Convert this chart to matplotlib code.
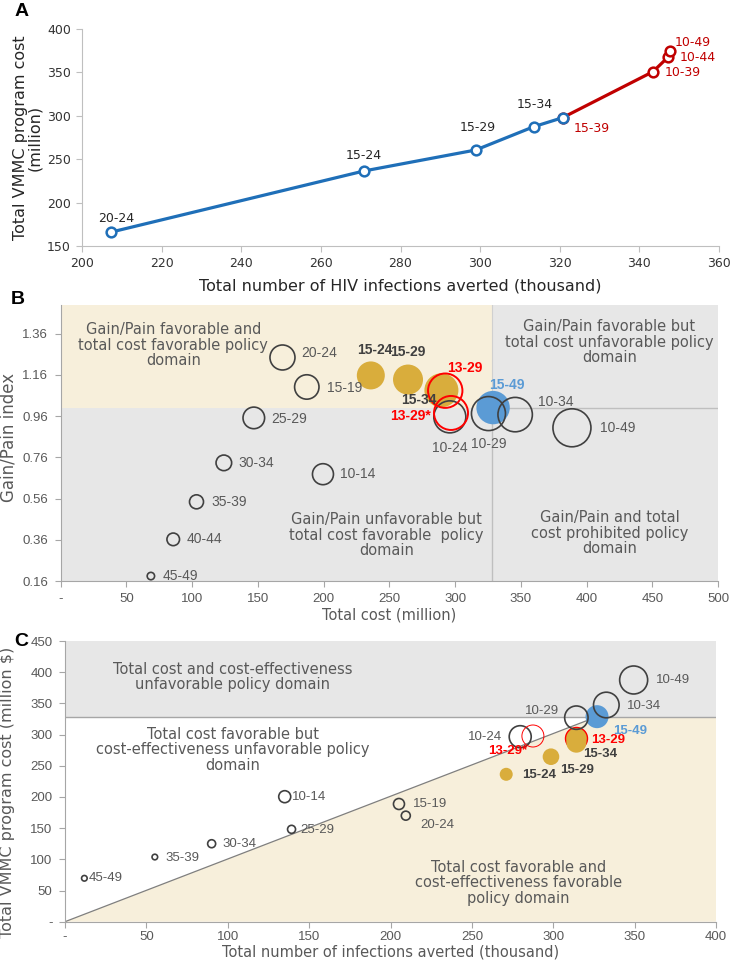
import matplotlib
matplotlib.use('Agg')
import matplotlib.pyplot as plt
from matplotlib.patches import Rectangle, Polygon

# ---- data ----
# Panel A: cost vs infections averted along the age-group expansion path
a_groups = ['20-24', '15-24', '15-29', '15-34', '15-39', '10-39', '10-44', '10-49']
a_infections = [207.3, 270.8, 298.9, 313.5, 320.7, 343.4, 347.3, 347.6]
a_cost = [166.0, 236.4, 260.6, 287.5, 297.8, 350.8, 368.0, 374.7]
a_n_blue = 5  # first five on the blue path, 15-39 onward in red

# Panel B: total cost vs gain/pain index (bubble size in px radius)
b_groups = ['15-24', '15-29', '15-34', '15-49',
            '45-49', '40-44', '35-39', '30-34', '25-29', '10-14', '15-19', '20-24',
            '10-24', '10-29', '10-34', '10-49', '13-29', '13-29*']
b_kind = ['gold', 'gold', 'gold', 'blue',
          'open', 'open', 'open', 'open', 'open', 'open', 'open', 'open',
          'open', 'open', 'open', 'open', 'red', 'red']
b_cost = [235.9, 264.2, 289.6, 328.9,
          68.6, 85.6, 103.3, 124.1, 146.9, 199.5, 187.2, 168.7,
          296.0, 325.4, 345.7, 388.9, 292.5, 296.9]
b_index = [1.157, 1.137, 1.085, 1.001,
           0.184, 0.362, 0.544, 0.733, 0.951, 0.678, 1.101, 1.244,
           0.956, 0.972, 0.967, 0.903, 1.083, 0.975]
b_bubble = [14, 15, 17, 16.7,
            3.7, 6.3, 7, 7.8, 10.8, 10.5, 12.2, 12.5,
            16, 17, 17.2, 19, 17.2, 17]

# Panel C: infections averted vs total cost
c_groups = ['15-24', '15-29', '13-29', '15-34', '15-49',
            '45-49', '35-39', '30-34', '10-14', '25-29', '15-19', '20-24',
            '10-24', '10-29', '10-34', '10-49', '13-29*']
c_kind = ['gold', 'gold', 'goldred', 'gold', 'blue',
          'open', 'open', 'open', 'open', 'open', 'open', 'open',
          'open', 'open', 'open', 'open', 'redthin']
c_infections = [271.1, 298.6, 314.2, 314.2, 326.9,
                11.9, 55.2, 90.1, 135.0, 139.2, 205.2, 209.4,
                279.7, 314.2, 332.6, 349.4, 287.5]
c_cost = [236.3, 264.5, 294.1, 287.0, 328.7,
          69.6, 103.7, 125.0, 200.4, 148.1, 188.7, 170.0,
          296.6, 327.1, 347.4, 387.5, 297.7]
c_bubble = [6.5, 8.3, 11, 10, 11.5,
            2.8, 2.8, 4, 6, 4, 5.5, 4.5,
            11, 11.7, 12.8, 14, 11]

cost_cap = 328      # total cost threshold (million)
gain_pain_cut = 1.0

# ---- styling ----
BLUE_A = '#1F6FB8'
RED_A = '#C00000'
GOLD = '#D9AD3C'
BLUE = '#5B9BD5'
RED = '#FF0000'
DARK = '#404040'
GRAY_BG = '#E7E7E7'
BEIGE = '#F7EFDB'
TXT = '#595959'
ARIAL = 'Liberation Sans'
PX = 0.72  # px -> points at dpi 100

plt.rcParams['font.family'] = 'DejaVu Sans'

fig = plt.figure(figsize=(7.33, 9.6), dpi=100)

def area(r):
    return (2 * r * PX) ** 2

def style_axes(ax, spine='#A6A6A6'):
    for s in ['top', 'right']:
        ax.spines[s].set_visible(False)
    for s in ['left', 'bottom']:
        ax.spines[s].set_color(spine)
    ax.tick_params(colors=spine, length=4)

# ================= Panel A =================
axA = fig.add_axes([82/733, 1-246/960, 637/733, 217/960])
style_axes(axA, '#BFBFBF')
axA.plot(a_infections[a_n_blue-1:], a_cost[a_n_blue-1:], '-o', color=RED_A, lw=2.3,
         ms=7, mfc='white', mec=RED_A, mew=1.8, zorder=2)
axA.plot(a_infections[:a_n_blue], a_cost[:a_n_blue], '-o', color=BLUE_A, lw=2.3,
         ms=7, mfc='white', mec=BLUE_A, mew=1.8, zorder=3)
axA.set_xlim(200, 360)
axA.set_ylim(150, 400)
axA.set_xticks(range(200, 361, 20))
axA.set_yticks(range(150, 401, 50))
axA.tick_params(labelcolor='#333333', labelsize=9, pad=4)
axA.set_xlabel('Total number of HIV infections averted (thousand)', fontsize=11.5, color='#262626')
axA.set_ylabel('Total VMMC program cost\n(million)', fontsize=11.5, color='#262626', linespacing=1.0)
axA.xaxis.set_label_coords(0.5, -0.15)
axA.yaxis.set_label_coords(-0.062, 0.5)

a_offsets = {'20-24': (4.7, 13.7, 'center'), '15-24': (0, 16, 'center'),
             '15-29': (1.8, 22.7, 'center'), '15-34': (1, 22.4, 'center'),
             '15-39': (11, -10.6, 'left'), '10-39': (11.3, -1, 'left'),
             '10-44': (11.7, -0.6, 'left'), '10-49': (5.3, 8.3, 'left')}
for i, g in enumerate(a_groups):
    dx, dy, ha = a_offsets[g]
    col = '#262626' if i < a_n_blue - 1 else RED_A
    axA.annotate(g, (a_infections[i], a_cost[i]), xytext=(dx*PX, dy*PX),
                 textcoords='offset points', ha=ha, va='center', fontsize=9, color=col)

# ================= Panel B =================
axB = fig.add_axes([60.7/733, 1-581/960, 657.3/733, 276.3/960])
style_axes(axB)
axB.set_facecolor(GRAY_BG)
axB.set_xlim(0, 500)
axB.set_ylim(0.16, 1.5)
axB.add_patch(Rectangle((0, gain_pain_cut), cost_cap, 1.5 - gain_pain_cut,
                        facecolor=BEIGE, edgecolor='none', zorder=0))
axB.plot([cost_cap, cost_cap], [0.16, gain_pain_cut], color='#BFBFBF', lw=1, zorder=1)
axB.plot([cost_cap, 500], [gain_pain_cut, gain_pain_cut], color='#BFBFBF', lw=1, zorder=1)
axB.plot([cost_cap, cost_cap], [gain_pain_cut, 1.5], color='#D0D0D0', lw=0.8, zorder=1)
axB.set_xticks(range(0, 501, 50))
axB.set_xticklabels(['-'] + [str(v) for v in range(50, 501, 50)])
yt = [0.16, 0.36, 0.56, 0.76, 0.96, 1.16, 1.36]
axB.set_yticks(yt)
axB.set_yticklabels(['%.2f' % v for v in yt])
axB.tick_params(labelcolor=TXT, labelsize=9.5, pad=5)
for lab in axB.get_xticklabels() + axB.get_yticklabels():
    lab.set_family(ARIAL)
axB.set_xlabel('Total cost (million)', fontsize=10.5, color=TXT)
axB.set_ylabel('Gain/Pain index', fontsize=12, color=TXT)
axB.xaxis.set_label_coords(0.5, -0.095)
axB.yaxis.set_label_coords(-0.066, 0.52)

def draw_bubbles(ax, xs, ys, sizes, kinds):
    for x, y, r, k in zip(xs, ys, sizes, kinds):
        if k == 'gold':
            ax.scatter(x, y, s=area(r), color=GOLD, edgecolors='none', zorder=3)
        elif k == 'goldred':
            ax.scatter(x, y, s=area(r), color=GOLD, edgecolors=RED, linewidths=1.0, zorder=3)
        elif k == 'blue':
            ax.scatter(x, y, s=area(r), color=BLUE, edgecolors='none', zorder=4)
        elif k == 'open':
            ax.scatter(x, y, s=area(r), facecolors='none', edgecolors=DARK, linewidths=1.2, zorder=5)
        elif k == 'red':
            ax.scatter(x, y, s=area(r), facecolors='none', edgecolors=RED, linewidths=1.4, zorder=6)
        elif k == 'redthin':
            ax.scatter(x, y, s=area(r), facecolors='none', edgecolors=RED, linewidths=0.7, zorder=6)

draw_bubbles(axB, b_cost, b_index, b_bubble, b_kind)

label_style = {'gold': ('#404040', 'bold'), 'goldred': (RED, 'bold'), 'blue': (BLUE, 'bold'),
               'open': (TXT, 'normal'), 'red': (RED, 'bold'), 'redthin': (RED, 'bold')}

b_offsets = {'20-24': (19, 4, 'left'), '15-19': (20.7, -0.6, 'left'), '25-29': (17.7, -0.6, 'left'),
             '30-34': (15, 0, 'left'), '10-14': (17.4, 0, 'left'), '35-39': (15, 0, 'left'),
             '40-44': (13.4, 0, 'left'), '45-49': (11.3, 0, 'left'),
             '15-24': (4, 25, 'center'), '15-29': (0, 27.6, 'center'), '15-34': (-22.7, -9.3, 'center'),
             '13-29': (20, 22.4, 'center'), '13-29*': (-20, -3.3, 'right'),
             '10-24': (0, -31, 'center'), '10-29': (0, -30, 'center'), '15-49': (13.4, 22.3, 'center'),
             '10-34': (41, 12.6, 'center'), '10-49': (28.4, -0.6, 'left')}
for g, x, y, k in zip(b_groups, b_cost, b_index, b_kind):
    dx, dy, ha = b_offsets[g]
    col, wt = label_style[k]
    axB.annotate(g, (x, y), xytext=(dx*PX, dy*PX), textcoords='offset points',
                 ha=ha, va='center', fontsize=10, color=col, fontweight=wt,
                 family=ARIAL, zorder=7)

dom = dict(fontsize=10.5, color=TXT, ha='center', va='center', linespacing=1.05, zorder=2)
axB.text(85.6, 1.303, 'Gain/Pain favorable and\ntotal cost favorable policy\ndomain', **dom)
axB.text(417.4, 1.319, 'Gain/Pain favorable but\ntotal cost unfavorable policy\ndomain', **dom)
axB.text(248, 0.383, 'Gain/Pain unfavorable but\ntotal cost favorable  policy\ndomain', **dom)
axB.text(417.9, 0.391, 'Gain/Pain and total\ncost prohibited policy\ndomain', **dom)

# ================= Panel C =================
axC = fig.add_axes([65/733, 1-921.7/960, 651/733, 280.7/960])
style_axes(axC)
axC.set_xlim(0, 400)
axC.set_ylim(0, 450)
i_ref = c_groups.index('15-49')
slope = c_cost[i_ref] / c_infections[i_ref]
x_end = cost_cap / slope
axC.axhspan(cost_cap, 450, facecolor=GRAY_BG, edgecolor='none', zorder=0)
axC.add_patch(Polygon([(0, 0), (x_end, cost_cap), (400, cost_cap), (400, 0)],
                      closed=True, facecolor=BEIGE, edgecolor='none', zorder=0))
axC.plot([0, x_end], [0, cost_cap], color='#7F7F7F', lw=0.9, zorder=1)
axC.axhline(cost_cap, color='#A6A6A6', lw=1, zorder=1)
axC.set_xticks(range(0, 401, 50))
axC.set_xticklabels(['-'] + [str(v) for v in range(50, 401, 50)])
axC.set_yticks(range(0, 451, 50))
axC.set_yticklabels(['-'] + [str(v) for v in range(50, 451, 50)])
axC.tick_params(labelcolor=TXT, labelsize=9.5, pad=5)
axC.tick_params(axis='x', pad=3)
for lab in axC.get_xticklabels() + axC.get_yticklabels():
    lab.set_family(ARIAL)
axC.set_xlabel('Total number of infections averted (thousand)', fontsize=10.5, color=TXT)
axC.set_ylabel('Total VMMC program cost (million $)', fontsize=11.5, color=TXT)
axC.xaxis.set_label_coords(0.5, -0.083)
axC.yaxis.set_label_coords(-0.077, 0.46)

draw_bubbles(axC, c_infections, c_cost, c_bubble, c_kind)

c_offsets = {'45-49': (4.5, 0, 'left'), '35-39': (10.3, -1, 'left'), '30-34': (10.7, 0, 'left'),
             '10-14': (7, 0, 'left'), '25-29': (9, -1, 'left'), '15-19': (13.7, 0, 'left'),
             '20-24': (15, -9.3, 'left'), '15-24': (15.7, -0.7, 'left'), '15-29': (9.3, -13, 'left'),
             '15-34': (6.7, -11, 'left'), '13-29': (14.7, -2.2, 'left'), '15-49': (16, -14.5, 'left'),
             '10-34': (20.7, -1, 'left'), '10-49': (22.7, 0, 'left'), '10-29': (-17.7, 6.7, 'right'),
             '10-24': (-18, 0, 'right'), '13-29*': (-6, -15, 'right')}
for g, x, y, k in zip(c_groups, c_infections, c_cost, c_kind):
    dx, dy, ha = c_offsets[g]
    col, wt = label_style[k]
    axC.annotate(g, (x, y), xytext=(dx*PX, dy*PX), textcoords='offset points',
                 ha=ha, va='center', fontsize=9.5, color=col, fontweight=wt,
                 family=ARIAL, zorder=7)

domc = dict(fontsize=10.5, color=TXT, ha='center', va='center', linespacing=1.05, zorder=2)
axC.text(103, 392, 'Total cost and cost-effectiveness\nunfavorable policy domain', **domc)
axC.text(103, 275.6, 'Total cost favorable but\ncost-effectiveness unfavorable policy\ndomain', **domc)
axC.text(278.7, 62.5, 'Total cost favorable and\ncost-effectiveness favorable\npolicy domain', **domc)

# panel letters
for letter, (px, py) in {'A': (22, 12), 'B': (18, 300), 'C': (21, 641)}.items():
    fig.text(px/733, 1-py/960, letter, fontsize=14, fontweight='bold', family=ARIAL,
             ha='center', va='center', color='black')

fig.savefig('out.png', dpi=100)
plt.close(fig)
